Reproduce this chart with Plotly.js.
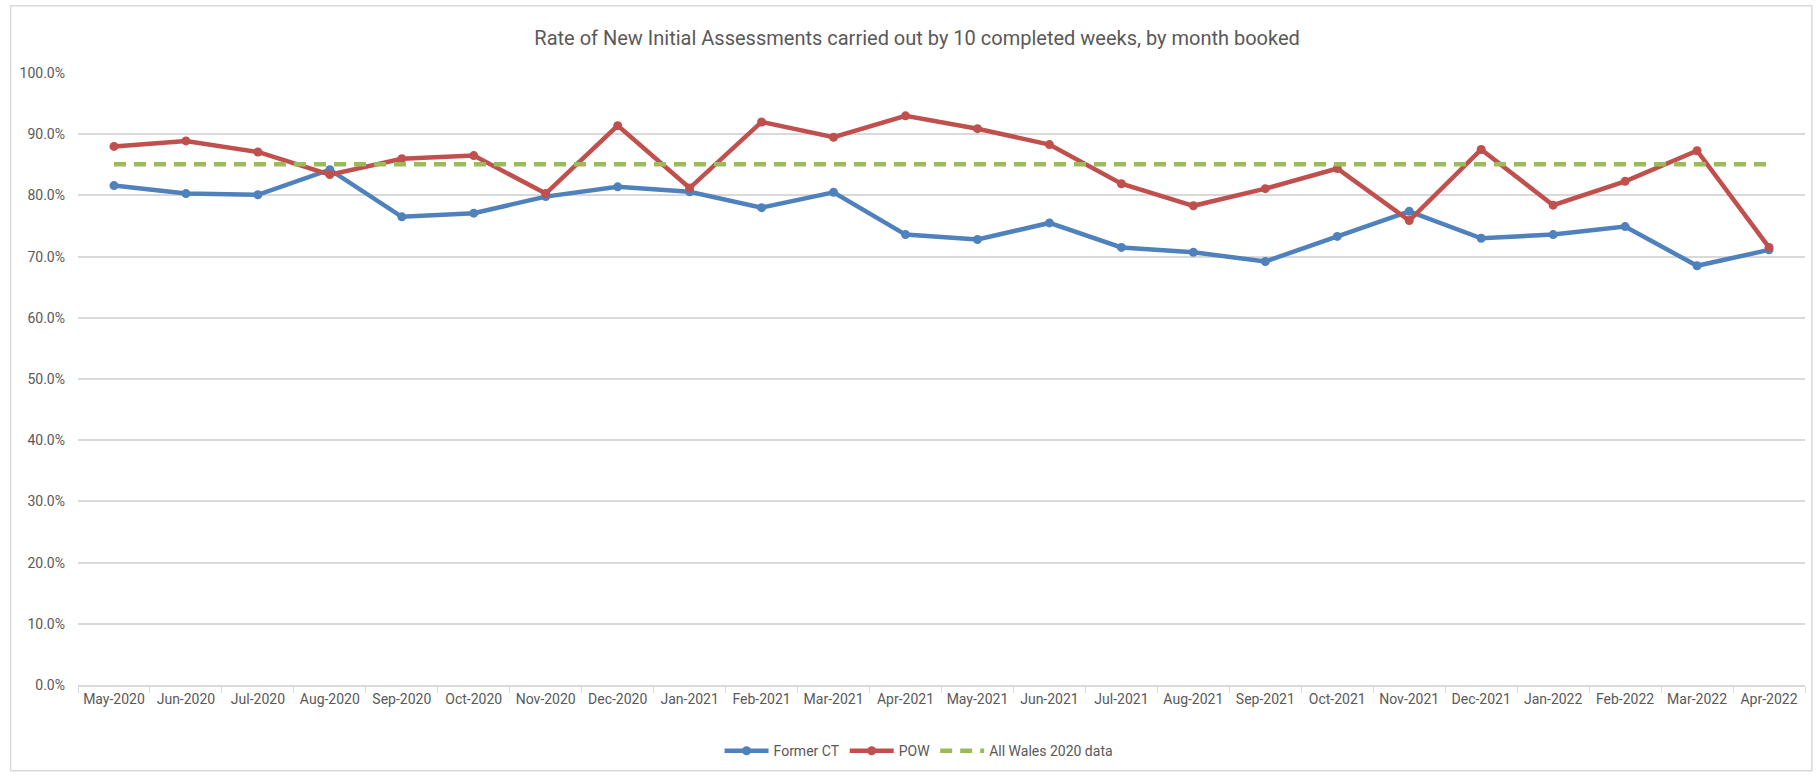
<!DOCTYPE html>
<html>
<head>
<meta charset="utf-8">
<script src="https://cdn.plot.ly/plotly-3.0.1.min.js"></script>
<style>
  html, body { margin: 0; padding: 0; background: #fff; }
  #chart { width: 1816px; height: 778px; }
</style>
</head>
<body>
<div id="chart"></div>
<script>
// months booked
var months = ['May-2020', 'Jun-2020', 'Jul-2020', 'Aug-2020', 'Sep-2020', 'Oct-2020',
  'Nov-2020', 'Dec-2020', 'Jan-2021', 'Feb-2021', 'Mar-2021', 'Apr-2021',
  'May-2021', 'Jun-2021', 'Jul-2021', 'Aug-2021', 'Sep-2021', 'Oct-2021',
  'Nov-2021', 'Dec-2021', 'Jan-2022', 'Feb-2022', 'Mar-2022', 'Apr-2022'];

// rates (fraction)
var formerCT = [0.816, 0.803, 0.801, 0.842, 0.765, 0.771, 0.798, 0.814, 0.806, 0.780, 0.805, 0.736,
  0.728, 0.755, 0.715, 0.707, 0.692, 0.733, 0.774, 0.730, 0.736, 0.749, 0.685, 0.711];
var pow = [0.880, 0.889, 0.871, 0.834, 0.860, 0.865, 0.803, 0.914, 0.812, 0.920, 0.895, 0.930,
  0.909, 0.883, 0.819, 0.783, 0.811, 0.844, 0.759, 0.875, 0.784, 0.823, 0.873, 0.715];
var allWales = 0.851;

var font = 'Roboto, "Open Sans", Arial, sans-serif';

var traces = [
  {
    x: months, y: formerCT, name: 'Former CT',
    type: 'scatter', mode: 'lines+markers',
    line: { color: '#4F81BD', width: 4.5 },
    marker: { color: '#4F81BD', size: 9 }
  },
  {
    x: months, y: pow, name: 'POW',
    type: 'scatter', mode: 'lines+markers',
    line: { color: '#C0504D', width: 4.5 },
    marker: { color: '#C0504D', size: 9 }
  },
  {
    x: months, y: months.map(function () { return allWales; }), name: 'All Wales 2020 data',
    type: 'scatter', mode: 'lines',
    line: { color: '#9BBB59', width: 4.5, dash: '12px,8px' }
  }
];

var layout = {
  width: 1816,
  height: 778,
  margin: { l: 78, r: 11, t: 73, b: 89 },
  paper_bgcolor: '#fff',
  plot_bgcolor: '#fff',
  font: { family: font, color: '#595959', size: 14 },
  title: {
    text: 'Rate of New Initial Assessments carried out by 10 completed weeks, by month booked',
    font: { family: font, size: 20, color: '#595959' },
    x: 0.505, xanchor: 'center', y: 0.951, yanchor: 'middle'
  },
  xaxis: {
    type: 'category',
    range: [-0.5, 23.5],
    showgrid: false,
    showline: true, linecolor: '#D9D9D9', linewidth: 1.5,
    ticks: 'outside', tickson: 'boundaries', ticklen: 6, tickcolor: '#D9D9D9',
    tickfont: { size: 14, color: '#595959' },
    tickangle: 0
  },
  yaxis: {
    range: [0, 1],
    dtick: 0.1,
    tickformat: '.1%',
    showgrid: true, gridcolor: '#D9D9D9', gridwidth: 1.5,
    zeroline: false,
    showline: false,
    ticks: '',
    tickfont: { size: 14, color: '#595959' },
    ticklabelstandoff: 12
  },
  legend: {
    orientation: 'h',
    x: 0.487, xanchor: 'center',
    y: -0.108, yanchor: 'middle',
    font: { size: 14, color: '#595959' },
    itemwidth: 44
  },
  shapes: [
    {
      type: 'rect', xref: 'paper', yref: 'paper',
      x0: -0.039, x1: 1.004, y0: -0.14, y1: 1.11,
      line: { color: '#D9D9D9', width: 1.5 }
    }
  ],
  showlegend: true
};

Plotly.newPlot('chart', traces, layout, { displayModeBar: false });
</script>
</body>
</html>
